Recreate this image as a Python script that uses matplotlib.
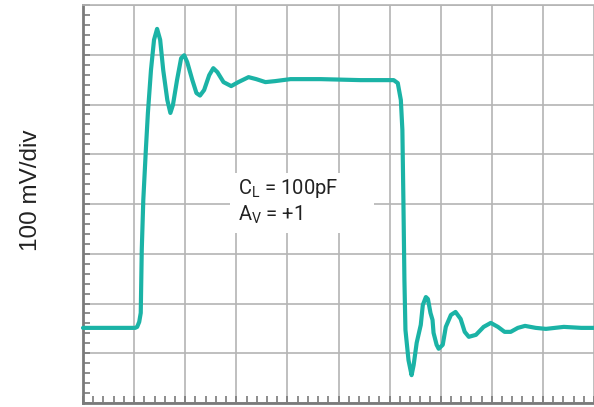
import numpy as np
import matplotlib
matplotlib.use("Agg")
import matplotlib.pyplot as plt
from matplotlib.patches import Rectangle

# time in divisions, voltage in divisions (100 mV/div)
t_div = [0.00, 1.02, 1.06, 1.10, 1.13, 1.15, 1.18, 1.23, 1.27, 1.33, 1.39, 1.45,
         1.51, 1.57, 1.65, 1.71, 1.76, 1.84, 1.92, 1.98, 2.04, 2.14, 2.22, 2.29,
         2.37, 2.47, 2.55, 2.63, 2.75, 2.90, 3.04, 3.24, 3.39, 3.57, 3.76, 4.06,
         4.65, 5.43, 6.08, 6.16, 6.22, 6.25, 6.27, 6.29, 6.31, 6.37, 6.43, 6.47,
         6.53, 6.61, 6.65, 6.71, 6.75, 6.80, 6.84, 6.86, 6.92, 6.96, 7.04, 7.10,
         7.20, 7.29, 7.39, 7.47, 7.55, 7.69, 7.84, 7.98, 8.12, 8.25, 8.37, 8.51,
         8.65, 8.86, 9.06, 9.41, 9.75, 10.00]
v_div = [1.51, 1.51, 1.53, 1.63, 1.81, 3.08, 4.08, 5.09, 5.83, 6.69, 7.30, 7.52,
         7.30, 6.69, 6.09, 5.83, 5.99, 6.49, 6.93, 6.99, 6.85, 6.49, 6.23, 6.18,
         6.29, 6.59, 6.73, 6.65, 6.45, 6.37, 6.45, 6.55, 6.51, 6.45, 6.47, 6.51,
         6.51, 6.49, 6.49, 6.43, 6.09, 5.49, 4.08, 2.47, 1.47, 0.86, 0.56, 0.76,
         1.21, 1.57, 1.97, 2.13, 2.09, 1.81, 1.67, 1.41, 1.17, 1.09, 1.17, 1.53,
         1.77, 1.83, 1.69, 1.43, 1.33, 1.37, 1.53, 1.61, 1.53, 1.43, 1.43, 1.51,
         1.55, 1.51, 1.49, 1.53, 1.51, 1.51]

label_lines = ["C$_\\mathregular{L}$ = 100pF", "A$_\\mathregular{V}$ = +1"]
y_label = "100 mV/div"

teal = "#1bb3a6"
grid_col = "#b4b4b4"
axis_col = "#7a7a7a"

fig = plt.figure(figsize=(5.94, 4.07), dpi=100)
ax = fig.add_axes([83 / 594, 4 / 407, 511 / 594, 398 / 407])

ax.set_xlim(0, 10)
ax.set_ylim(0, 8)
ax.set_xticks(np.arange(0, 11, 1))
ax.set_yticks(np.arange(0, 9, 1))
ax.set_xticks(np.arange(0, 10.01, 0.2), minor=True)
ax.set_yticks(np.arange(0, 8.01, 0.2), minor=True)
ax.set_xticklabels([])
ax.set_yticklabels([])
ax.tick_params(which="both", direction="in", length=5, width=1.2, color=axis_col,
               top=False, right=False)
ax.grid(True, which="major", color=grid_col, linewidth=1.2)
ax.set_axisbelow(True)

for s in ["left", "bottom"]:
    ax.spines[s].set_color(axis_col)
    ax.spines[s].set_linewidth(2)
ax.spines["top"].set_color(grid_col)
ax.spines["top"].set_linewidth(1.2)
ax.spines["right"].set_visible(False)

# white panel behind the annotation
ax.add_patch(Rectangle((2.88, 3.42), 2.81, 1.20, facecolor="white",
                       edgecolor="none", zorder=1.5))
ax.text(3.03, 4.32, label_lines[0], fontsize=14.5, family="Roboto",
        color="#222222", va="center", zorder=3)
ax.text(3.03, 3.78, label_lines[1], fontsize=14.5, family="Roboto",
        color="#222222", va="center", zorder=3)

ax.plot(t_div, v_div, color=teal, linewidth=3.0, solid_joinstyle="round",
        solid_capstyle="round", zorder=4, clip_on=False)

fig.text(31 / 594, 1 - 190 / 407, y_label, rotation=90, fontsize=17.5,
         family="Liberation Sans", color="#222222", ha="center", va="center")

fig.savefig("out.png", dpi=100)
